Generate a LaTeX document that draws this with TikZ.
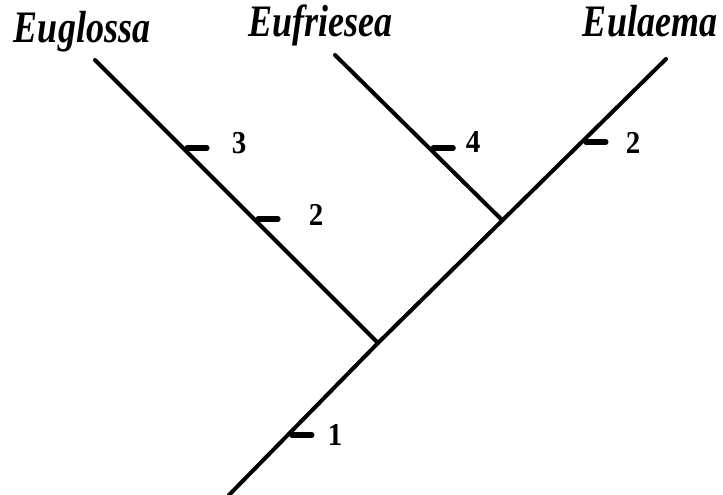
\documentclass[tikz,border=0pt]{standalone}
\usepackage{fontspec}
\setmainfont{Liberation Serif}
\usetikzlibrary{calc}
\begin{document}
\begin{tikzpicture}[x=1pt,y=1pt,
  branch/.style={line width=4pt,line cap=round},
  tickmark/.style={line width=5.2pt,line cap=round},
  taxon/.style={font=\fontsize{36}{40}\selectfont\bfseries\itshape,anchor=base,inner sep=0pt},
  count/.style={font=\fontsize{29}{32}\selectfont\bfseries,inner sep=0pt}]
\useasboundingbox (0,0) rectangle (723,495);
% branch points
\coordinate (root) at (229,0);
\coordinate (j1) at (378,152);
\coordinate (j2) at (502,275);
\coordinate (tipL) at (95,435);
\coordinate (tipM) at (335,440);
\coordinate (tipR) at (666,436);
% branches
\draw[branch] (root) -- (j1) -- (tipR);
\draw[branch] (j1) -- (tipL);
\draw[branch] (j2) -- (tipM);
% tick bases
\coordinate (t1) at ($(root)!0.395!(j1)$);
\coordinate (t3) at ($(j1)!0.689!(tipL)$);
\coordinate (t2l) at ($(j1)!0.438!(tipL)$);
\coordinate (t4) at ($(j2)!0.436!(tipM)$);
\coordinate (t2r) at ($(j1)!0.708!(tipR)$);
\draw[tickmark] (t1) ++(4,0) -- ++(20,0);
\draw[tickmark] (t3) ++(4,0) -- ++(20,0);
\draw[tickmark] (t2l) ++(4,0) -- ++(20,0);
\draw[tickmark] (t4) ++(4,0) -- ++(20,0);
\draw[tickmark] (t2r) ++(4,0) -- ++(20,0);
% counts
\node[count] (c1) at (335,60) {\scalebox{1}[1.1]{1}};
\node[count] (c3) at (239,352) {\scalebox{1}[1.1]{3}};
\node[count] (c2l) at (316,280) {\scalebox{1}[1.1]{2}};
\node[count] (c4) at (473,353) {\scalebox{1}[1.1]{4}};
\node[count] (c2r) at (633,352) {\scalebox{1}[1.1]{2}};
% taxa
\node[taxon] (euglossa) at (82,452) {\scalebox{1}[1.25]{Euglossa}};
\node[taxon] (eufriesea) at (320,458) {\scalebox{1}[1.25]{Eufriesea}};
\node[taxon] (eulaema) at (650,458) {\scalebox{1}[1.25]{Eulaema}};
\end{tikzpicture}
\end{document}
